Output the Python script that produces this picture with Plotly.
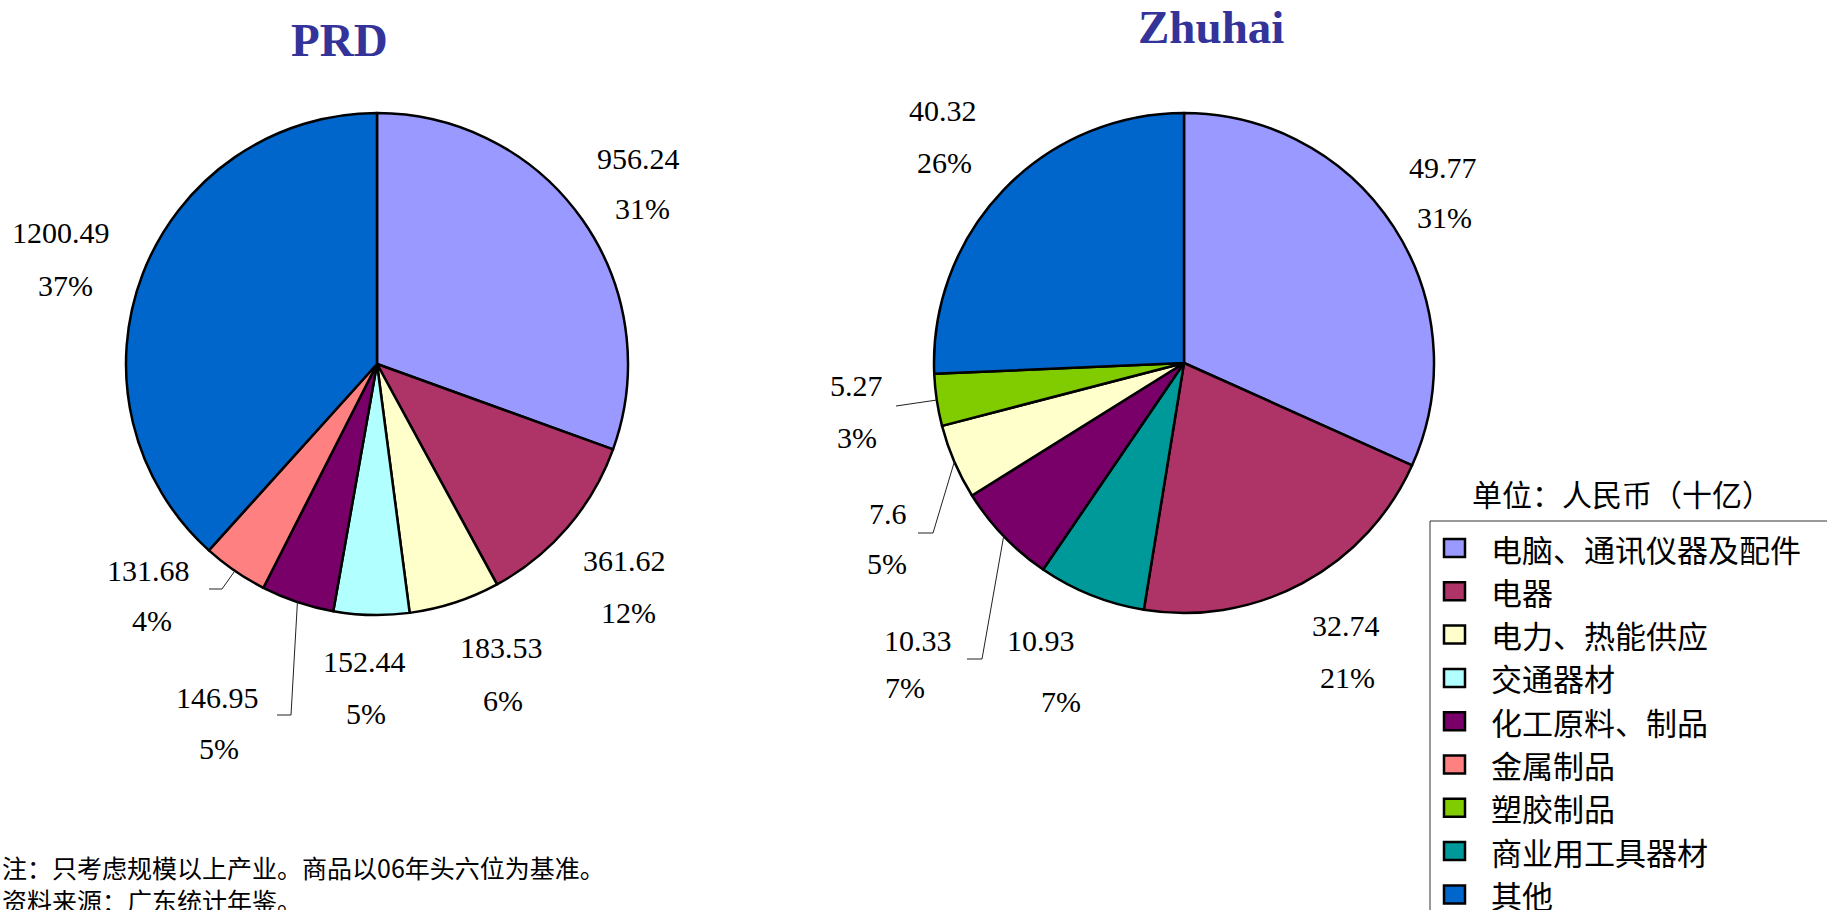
import math
import plotly.graph_objects as go

W, H = 1827, 910

# ---------------- data ----------------
categories = ["电脑、通讯仪器及配件", "电器", "电力、热能供应", "交通器材", "化工原料、制品",
              "金属制品", "塑胶制品", "商业用工具器材", "其他"]
category_colors = ["#9999FF", "#AE3366", "#FFFFCC", "#B2FFFF", "#780068",
                   "#FF8080", "#80CC00", "#009999", "#0066CC"]

prd_labels = ["电脑、通讯仪器及配件", "电器", "电力、热能供应", "交通器材", "化工原料、制品", "金属制品", "其他"]
prd_values = [956.24, 361.62, 183.53, 152.44, 146.95, 131.68, 1200.49]
prd_pct = ["31%", "12%", "6%", "5%", "5%", "4%", "37%"]

zh_labels = ["电脑、通讯仪器及配件", "电器", "商业用工具器材", "化工原料、制品", "电力、热能供应", "塑胶制品", "其他"]
zh_values = [49.77, 32.74, 10.93, 10.33, 7.6, 5.27, 40.32]
zh_pct = ["31%", "21%", "7%", "7%", "5%", "3%", "26%"]

titles = ["PRD", "Zhuhai"]
unit_text = "单位：人民币（十亿）"
notes = ["注：只考虑规模以上产业。商品以06年头六位为基准。", "资料来源：广东统计年鉴。"]

# ---------------- layout helpers ----------------
color_of = dict(zip(categories, category_colors))
px = lambda x: x / W
py = lambda y: 1 - y / H

pies = [
    dict(labels=prd_labels, values=prd_values, pct=prd_pct, title=titles[0],
         cx=377, cy=364, r=251, title_pos=(339, 40),
         # (value label centre, percent label centre) per slice
         label_pos=[((638, 158), (642, 209)), ((624, 560), (628, 612)), ((501, 647), (503, 700)),
                    ((364, 661), (366, 713)), ((217, 697), (219, 748)), ((148, 570), (152, 620)),
                    ((61, 233), (65, 285))],
         leaders={4: [(291, 715), (277, 715)], 5: [(222, 589), (209, 589)]}),
    dict(labels=zh_labels, values=zh_values, pct=zh_pct, title=titles[1],
         cx=1184, cy=363, r=250, title_pos=(1211, 27),
         label_pos=[((1443, 167), (1444, 217)), ((1346, 625), (1347, 677)), ((1041, 640), (1061, 701)),
                    ((918, 640), (905, 687)), ((888, 513), (887, 563)), ((856, 385), (857, 437)),
                    ((943, 110), (944, 162))],
         leaders={3: [(982, 659), (967, 659)], 4: [(933, 533), (918, 533)], 5: [(896, 406)]}),
]

fig = go.Figure()
annotations = []
shapes = []

num_font = dict(family="Liberation Serif, Times New Roman, serif", size=30, color="#000000")
cjk = "Noto Sans CJK SC, Noto Sans CJK TC, sans-serif"

for p in pies:
    cx, cy, r = p["cx"], p["cy"], p["r"]
    fig.add_trace(go.Pie(
        labels=p["labels"], values=p["values"], sort=False, direction="clockwise", rotation=0,
        marker=dict(colors=[color_of[l] for l in p["labels"]], line=dict(color="#000000", width=2.5)),
        textinfo="none", hoverinfo="label+value+percent", showlegend=False,
        domain=dict(x=[px(cx - r), px(cx + r)], y=[py(cy + r), py(cy - r)]),
    ))
    tx, ty = p["title_pos"]
    annotations.append(dict(x=px(tx), y=py(ty), xref="paper", yref="paper", showarrow=False,
                            text=p["title"], xanchor="center", yanchor="middle",
                            font=dict(family="Liberation Serif, Times New Roman, serif", size=47,
                                      color="#333399", weight="bold")))
    total = sum(p["values"])
    cum = 0.0
    for i, (v, pc) in enumerate(zip(p["values"], p["pct"])):
        mid = (cum + v / 2) / total * 2 * math.pi
        cum += v
        (vx, vy), (qx, qy) = p["label_pos"][i]
        annotations.append(dict(x=px(vx), y=py(vy), xref="paper", yref="paper", showarrow=False,
                                text=str(v), xanchor="center", yanchor="middle", font=num_font))
        annotations.append(dict(x=px(qx), y=py(qy), xref="paper", yref="paper", showarrow=False,
                                text=pc, xanchor="center", yanchor="middle", font=num_font))
        if i in p["leaders"]:
            ex, ey = cx + r * math.sin(mid), cy - r * math.cos(mid)
            pts = [(ex, ey)] + p["leaders"][i]
            path = "M " + " L ".join(f"{px(a)},{py(b)}" for a, b in pts)
            shapes.append(dict(type="path", xref="paper", yref="paper", path=path,
                               line=dict(color="#222222", width=1)))

# ---------------- legend (drawn as a box) ----------------
leg_left, leg_top = 1430, 521
shapes.append(dict(type="rect", xref="paper", yref="paper",
                   x0=px(leg_left), x1=px(W + 20), y0=py(H + 20), y1=py(leg_top),
                   line=dict(color="#333333", width=1), fillcolor="rgba(0,0,0,0)"))
annotations.append(dict(x=px(1622), y=py(493), xref="paper", yref="paper", showarrow=False,
                        text=unit_text, xanchor="center", yanchor="middle",
                        font=dict(family=cjk, size=30, color="#000000")))
for i, (cat, col) in enumerate(zip(categories, category_colors)):
    yc = 548 + i * 43.3
    shapes.append(dict(type="rect", xref="paper", yref="paper",
                       x0=px(1444), x1=px(1465), y0=py(yc + 9), y1=py(yc - 9),
                       line=dict(color="#000000", width=2.5), fillcolor=col))
    annotations.append(dict(x=px(1489), y=py(yc), xref="paper", yref="paper", showarrow=False,
                            text=cat, xanchor="left", yanchor="middle",
                            font=dict(family=cjk, size=31, color="#000000")))

# ---------------- notes ----------------
annotations.append(dict(x=0, y=py(883), xref="paper", yref="paper", showarrow=False,
                        text="<br>".join(notes), xanchor="left", yanchor="middle", align="left",
                        font=dict(family=cjk, size=25, color="#000000")))

fig.update_layout(width=W, height=H, margin=dict(l=0, r=0, t=0, b=0),
                  paper_bgcolor="#FFFFFF", plot_bgcolor="#FFFFFF",
                  annotations=annotations, shapes=shapes, showlegend=False)

fig.write_html("out.html", config={"displayModeBar": False},
               post_script="document.body.style.margin='0px';document.body.style.overflow='hidden';")
